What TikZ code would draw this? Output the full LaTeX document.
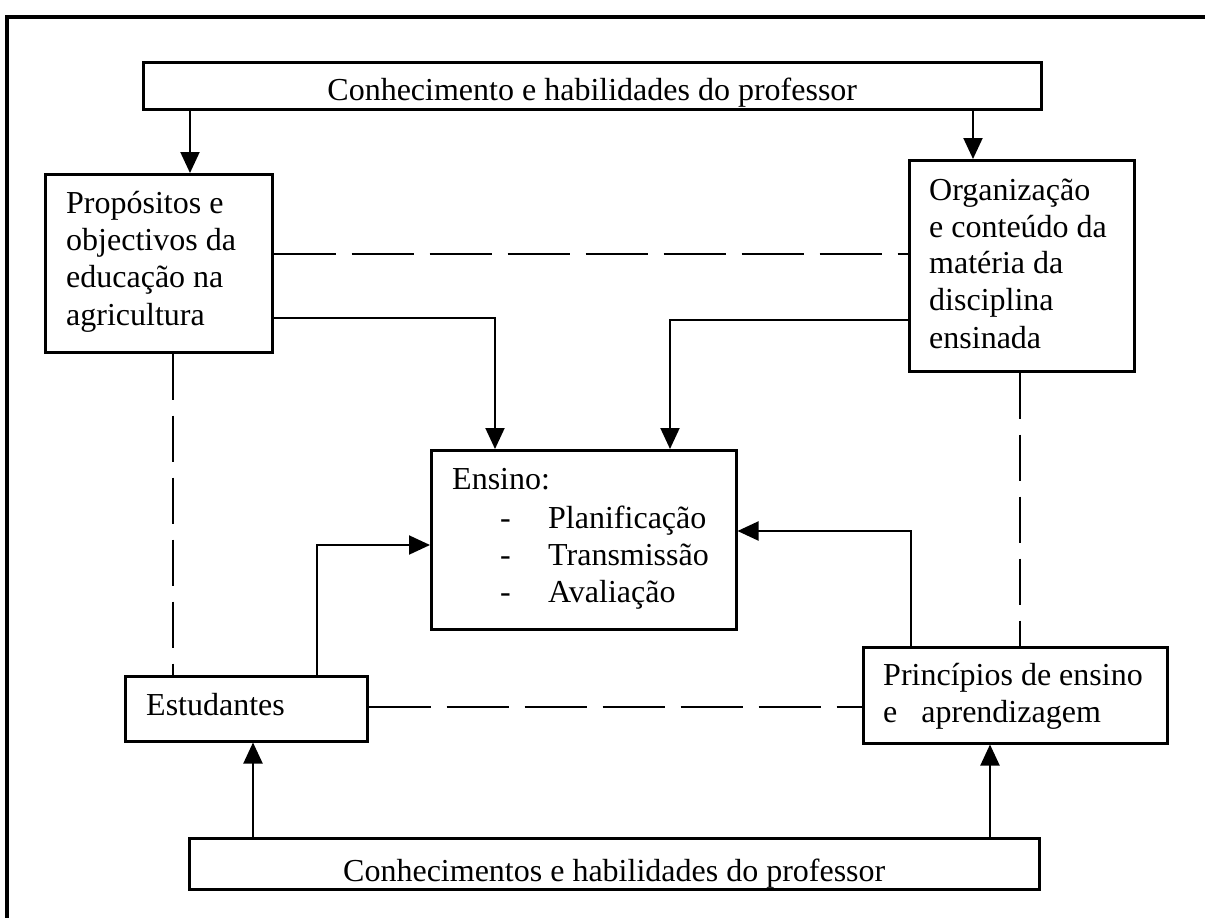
\documentclass[tikz,border=0pt]{standalone}
\usepackage{fontspec}
\setmainfont{Liberation Serif}
\usetikzlibrary{arrows.meta,calc}
\begin{document}
\begin{tikzpicture}[x=1pt,y=-1pt,
 box/.style={draw, line width=2.5pt, rectangle, inner sep=0pt, anchor=north west},
 txt/.style={anchor=base west, inner sep=0pt, font=\fontsize{32}{37}\selectfont},
 link/.style={line width=2pt},
 arr/.style={link, -{Triangle[length=21pt,width=19pt]}},
 hdash/.style={link, dash pattern=on 62pt off 16pt},
 vdash/.style={link, dash pattern=on 46pt off 16pt}]
\useasboundingbox (0,0) rectangle (1205,918);
\fill[white] (0,0) rectangle (1205,918);
% outer frame
\draw[line width=4.5pt] (7,918) -- (7,17) -- (1205,17);
% boxes
\node[box, minimum width=898pt, minimum height=47pt] (top) at (142,61) {};
\node[box, minimum width=227pt, minimum height=178pt] (prop) at (44,173) {};
\node[box, minimum width=225pt, minimum height=211pt] (org) at (908,159) {};
\node[box, minimum width=305pt, minimum height=179pt] (ens) at (430,449) {};
\node[box, minimum width=242pt, minimum height=65pt] (est) at (124,675) {};
\node[box, minimum width=304pt, minimum height=96pt] (pri) at (862,646) {};
\node[box, minimum width=850pt, minimum height=51pt] (bot) at (188,837) {};
% texts
\node[txt, anchor=base] (ttop) at ([yshift=10pt]top.south) {Conhecimento e habilidades do professor};
\node[txt] (p1) at (66,213) {Propósitos e};
\node[txt] (p2) at (66,250) {objectivos da};
\node[txt] (p3) at (66,287) {educação na};
\node[txt] (p4) at (66,325) {agricultura};
\node[txt] (o1) at (929,200) {Organização};
\node[txt] (o2) at (929,237) {e conteúdo da};
\node[txt] (o3) at (929,273) {matéria da};
\node[txt] (o4) at (929,310) {disciplina};
\node[txt] (o5) at (929,348) {ensinada};
\node[txt] (e0) at (452,489) {Ensino:};
\node[txt] (d1) at (500,528) {-};
\node[txt] (d2) at (500,565) {-};
\node[txt] (d3) at (500,602) {-};
\node[txt] (e1) at (548,528) {Planificação};
\node[txt] (e2) at (548,565) {Transmissão};
\node[txt] (e3) at (548,602) {Avaliação};
\node[txt] (s1) at (146,715) {Estudantes};
\node[txt] (r1) at (883,685) {Princípios de ensino};
\node[txt] (r2) at (883,722) {e\hspace{24pt}aprendizagem};
\node[txt, anchor=base] (tbot) at ([yshift=9pt]bot.south) {Conhecimentos e habilidades do professor};
% helper coordinates
\coordinate (c1) at (190,0);
\coordinate (c2) at (973,0);
\coordinate (b3) at (0,254);
\coordinate (b4) at (495,318);
\coordinate (b5) at (670,320);
\coordinate (b6) at (173,0);
\coordinate (b7) at (1020,0);
\coordinate (b8) at (317,545);
\coordinate (b9) at (911,531);
\coordinate (b10) at (0,707);
\coordinate (b11) at (253,0);
\coordinate (b12) at (990,0);
% connectors
\draw[arr] (top.south -| c1) -- (prop.north -| c1);
\draw[arr] (top.south -| c2) -- (org.north -| c2);
\draw[hdash] (prop.east |- b3) -- (org.west |- b3);
\draw[arr] (prop.east |- b4) -| (ens.north -| b4);
\draw[arr] (org.west |- b5) -| (ens.north -| b5);
\draw[vdash] (prop.south -| b6) -- (est.north -| b6);
\draw[vdash] (org.south -| b7) -- (pri.north -| b7);
\draw[arr] (est.north -| b8) |- (ens.west |- b8);
\draw[arr] (pri.north -| b9) |- (ens.east |- b9);
\draw[hdash] (est.east |- b10) -- (pri.west |- b10);
\draw[arr] (bot.north -| b11) -- (est.south -| b11);
\draw[arr] (bot.north -| b12) -- (pri.south -| b12);
\end{tikzpicture}
\end{document}
